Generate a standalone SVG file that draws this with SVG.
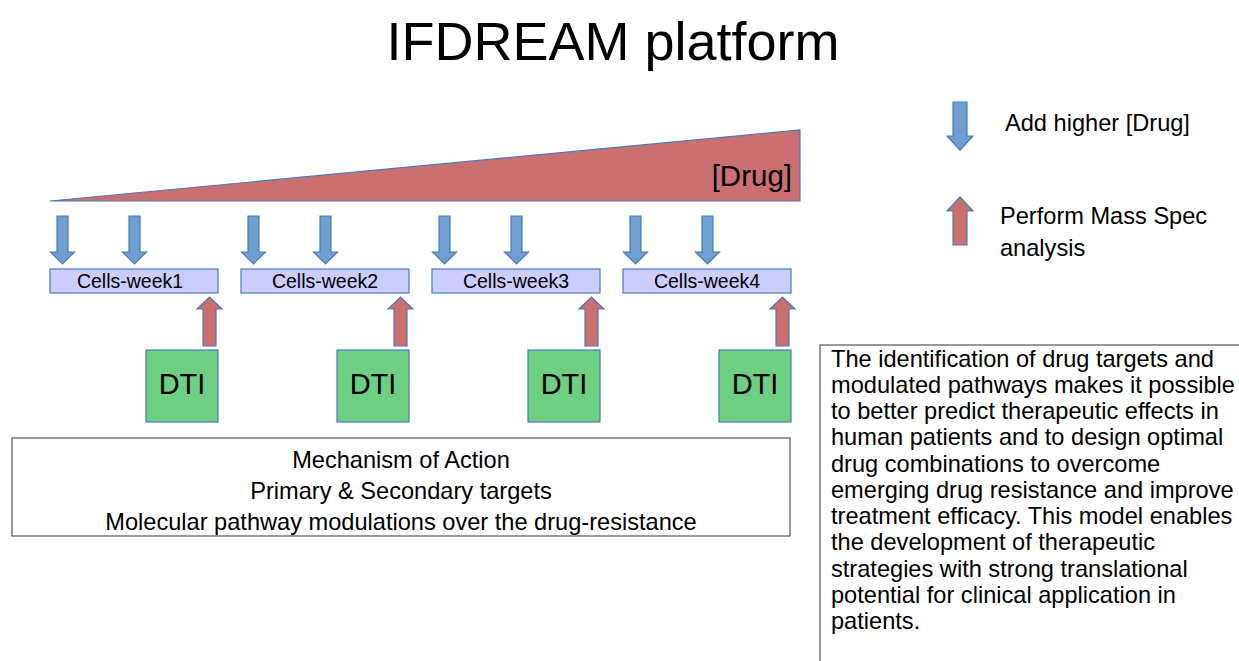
<svg xmlns="http://www.w3.org/2000/svg" width="1239" height="661" viewBox="0 0 1239 661">
<defs>
<style>
text{font-family:"Liberation Sans",Arial,sans-serif;fill:#000}
.down{fill:#6f9fd0;stroke:#4a7ab8;stroke-width:1.2}
.up{fill:#cc6f70;stroke:#4a7ab8;stroke-width:1.2}
.cell{fill:#ccccff;stroke:#4a7ab8;stroke-width:1.2}
.dti{fill:#6ecf82;stroke:#4a7ab8;stroke-width:1.2}
.cl{font-size:19.5px;text-anchor:middle}
.dt{font-size:29px;text-anchor:middle}
.box{fill:#fff;stroke:#333;stroke-width:1}
.t{font-size:23.6px}
</style>
<path id="da" d="M7,0 H18 V36 H24.5 L12.5,48 L0.5,36 H7 Z"/>
<path id="ua" d="M6,49 H19 V12 H25 L12.5,0 L0,12 H6 Z"/>
</defs>
<rect width="1239" height="661" fill="#fff"/>
<text x="613" y="60" font-size="54" text-anchor="middle">IFDREAM platform</text>
<g id="drug-gradient">
<path d="M50,201 L800,130 L800,201 Z" fill="#cc6f70" stroke="#4a7ab8" stroke-width="1.2"/>
<text x="792" y="186" font-size="29.5" text-anchor="end">[Drug]</text>
</g>
<g id="connectors">
<use href="#da" class="down" x="50" y="216"/>
<use href="#da" class="down" x="122" y="216"/>
<use href="#da" class="down" x="241" y="216"/>
<use href="#da" class="down" x="313" y="216"/>
<use href="#da" class="down" x="432" y="216"/>
<use href="#da" class="down" x="504" y="216"/>
<use href="#da" class="down" x="623" y="216"/>
<use href="#da" class="down" x="695" y="216"/>
<use href="#ua" class="up" x="197" y="297"/>
<use href="#ua" class="up" x="388" y="297"/>
<use href="#ua" class="up" x="579" y="297"/>
<use href="#ua" class="up" x="770" y="297"/>
</g>
<g id="cells-week1"><rect class="cell" x="50" y="269" width="168" height="24"/><text class="cl" x="130" y="288">Cells-week1</text></g>
<g id="cells-week2"><rect class="cell" x="241" y="269" width="168" height="24"/><text class="cl" x="325" y="288">Cells-week2</text></g>
<g id="cells-week3"><rect class="cell" x="432" y="269" width="168" height="24"/><text class="cl" x="516" y="288">Cells-week3</text></g>
<g id="cells-week4"><rect class="cell" x="623" y="269" width="168" height="24"/><text class="cl" x="707" y="288">Cells-week4</text></g>
<g id="dti1"><rect class="dti" x="146" y="350" width="72" height="72"/><text class="dt" x="182" y="394">DTI</text></g>
<g id="dti2"><rect class="dti" x="337" y="350" width="72" height="72"/><text class="dt" x="373" y="394">DTI</text></g>
<g id="dti3"><rect class="dti" x="528" y="350" width="72" height="72"/><text class="dt" x="564" y="394">DTI</text></g>
<g id="dti4"><rect class="dti" x="719" y="350" width="72" height="72"/><text class="dt" x="755" y="394">DTI</text></g>
<g id="moa">
<rect class="box" x="12" y="438" width="778" height="98"/>
<text class="t" x="401" y="468" text-anchor="middle">Mechanism of Action</text>
<text class="t" x="401" y="499" text-anchor="middle">Primary &amp; Secondary targets</text>
<text class="t" x="401" y="530" text-anchor="middle">Molecular pathway modulations over the drug-resistance</text>
</g>
<g id="legend">
<path d="M953,102 H967 V136 H973 L960,150 L947,136 H953 Z" class="down"/>
<text class="t" x="1005" y="131">Add higher [Drug]</text>
<path d="M953,245 H967 V211 H973 L960,197 L947,211 H953 Z" class="up"/>
<text class="t" x="1000" y="224">Perform Mass Spec</text>
<text class="t" x="1000" y="256">analysis</text>
</g>
<g id="summary">
<rect class="box" x="820" y="345" width="430" height="330"/>
<text class="t">
<tspan x="831" y="367">The identification of drug targets and</tspan>
<tspan x="831" y="393">modulated pathways makes it possible</tspan>
<tspan x="831" y="419">to better predict therapeutic effects in</tspan>
<tspan x="831" y="445">human patients and to design optimal</tspan>
<tspan x="831" y="472">drug combinations to overcome</tspan>
<tspan x="831" y="498">emerging drug resistance and improve</tspan>
<tspan x="831" y="524">treatment efficacy. This model enables</tspan>
<tspan x="831" y="550">the development of therapeutic</tspan>
<tspan x="831" y="577">strategies with strong translational</tspan>
<tspan x="831" y="603">potential for clinical application in</tspan>
<tspan x="831" y="629">patients.</tspan>
</text>
</g>
</svg>
